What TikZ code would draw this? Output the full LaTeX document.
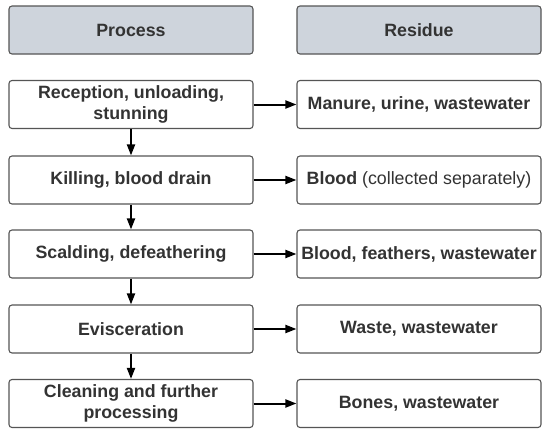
\documentclass[tikz,border=0pt]{standalone}
\usepackage{fontspec}
\setmainfont{Liberation Sans}
\usetikzlibrary{arrows.meta}
\definecolor{txt}{HTML}{333333}
\definecolor{edge}{HTML}{555555}
\definecolor{hdr}{HTML}{CED4DC}
\begin{document}
\begin{tikzpicture}[x=1pt,y=-1pt,
  box/.style={draw=edge,line width=1.1pt,rounded corners=3pt,fill=white,
    minimum width=244pt,minimum height=48pt,inner sep=0pt,align=center,
    text=txt,font=\fontsize{17.8}{21.5}\selectfont\bfseries},
  hbox/.style={box,fill=hdr},
  arr/.style={-{Triangle[length=11pt,width=8pt]},line width=2pt,black}]
\useasboundingbox (0,0) rectangle (550,434);
\node[hbox] (hp) at (131,30) {Process};
\node[hbox] (hr) at (419,30) {Residue};
\node[box] (p1) at (131,104.5) {Reception, unloading,\\stunning};
\node[box] (p2) at (131,180) {Killing, blood drain};
\node[box] (p3) at (131,254) {Scalding, defeathering};
\node[box] (p4) at (131,329) {Evisceration};
\node[box] (p5) at (131,403.5) {Cleaning and further\\processing};
\node[box] (r1) at (419,104.5) {Manure, urine, wastewater};
\node[box] (r2) at (419,180) {Blood \mdseries(collected separately)};
\node[box] (r3) at (419,254) {Blood, feathers, wastewater};
\node[box] (r4) at (419,329) {Waste, wastewater};
\node[box] (r5) at (419,403.5) {Bones, wastewater};
\foreach \i/\j in {1/2,2/3,3/4,4/5} \draw[arr] (p\i) -- (p\j);
\foreach \i in {1,...,5} \draw[arr] (p\i) -- (r\i);
\end{tikzpicture}
\end{document}
